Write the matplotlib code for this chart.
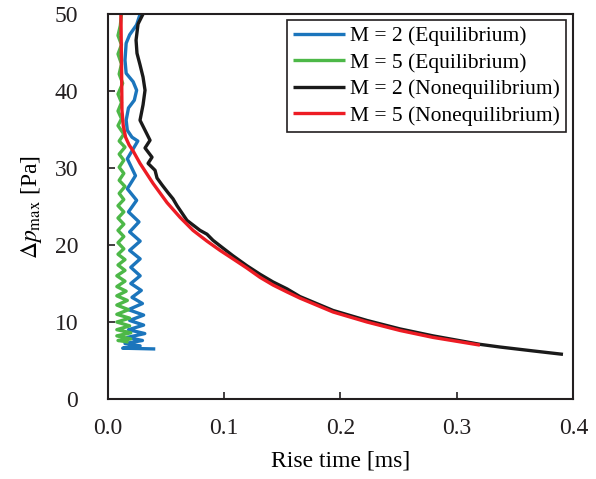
import matplotlib
matplotlib.use("Agg")
from matplotlib import pyplot as plt

plt.rcParams['font.family'] = ['Liberation Serif', 'DejaVu Serif']
plt.rcParams['mathtext.fontset'] = 'stix'

# M = 2 (Equilibrium)
eq2_x = [0.028, 0.025, 0.019, 0.016, 0.015, 0.016, 0.022, 0.025, 0.023, 0.018, 0.016, 0.017, 0.021,
         0.026, 0.017, 0.024, 0.017, 0.025, 0.018, 0.027, 0.019, 0.028, 0.019, 0.028, 0.020, 0.028,
         0.020, 0.029, 0.021, 0.030, 0.018, 0.031, 0.019, 0.031, 0.018, 0.032, 0.017, 0.030, 0.015,
         0.028, 0.013, 0.041]
eq2_y = [50.0, 48.6, 47.3, 46.2, 44.0, 42.3, 41.2, 40.1, 38.8, 37.8, 36.2, 34.9, 34.0,
         33.5, 31.2, 29.0, 27.3, 25.8, 24.3, 23.0, 21.7, 20.5, 19.3, 18.2, 17.1, 16.0,
         15.0, 14.1, 13.2, 12.4, 11.6, 10.9, 10.2, 9.6, 9.0, 8.5, 8.0, 7.6, 7.2,
         6.9, 6.6, 6.5]

# M = 5 (Equilibrium)
eq5_x = [0.012, 0.011, 0.009, 0.012, 0.009, 0.012, 0.010, 0.013, 0.009, 0.012, 0.009, 0.012, 0.009,
         0.014, 0.010, 0.015, 0.010, 0.014, 0.010, 0.014, 0.010, 0.015, 0.010, 0.014, 0.009, 0.014,
         0.009, 0.014, 0.009, 0.014, 0.009, 0.014, 0.009, 0.015, 0.009, 0.015, 0.008, 0.015, 0.008,
         0.016, 0.008, 0.017, 0.008, 0.018, 0.008, 0.019, 0.008, 0.019, 0.008, 0.020, 0.008, 0.020,
         0.009, 0.018]
eq5_y = [50.0, 48.5, 47.2, 46.0, 44.8, 43.5, 42.2, 41.0, 39.6, 38.5, 37.4, 36.4, 35.5,
         34.4, 33.5, 32.7, 31.8, 31.0, 30.1, 29.3, 28.4, 27.6, 26.7, 25.9, 25.1, 24.3,
         23.5, 22.7, 21.9, 21.1, 20.3, 19.5, 18.8, 18.1, 17.4, 16.7, 16.0, 15.3, 14.6,
         14.0, 13.4, 12.8, 12.2, 11.6, 11.0, 10.5, 10.0, 9.5, 9.0, 8.6, 8.2, 7.8,
         7.6, 7.4]

# M = 2 (Nonequilibrium)
neq2_x = [0.0305, 0.0262, 0.0245, 0.0253, 0.0279, 0.0305, 0.0322, 0.0305, 0.0279, 0.0322, 0.0365,
          0.0322, 0.0382, 0.0348, 0.0408, 0.0425, 0.0468, 0.0519, 0.0562, 0.0597, 0.0682, 0.0794,
          0.0854, 0.0906, 0.0991, 0.1077, 0.1197, 0.1309, 0.1421, 0.1541, 0.1652, 0.1936, 0.2227,
          0.2511, 0.2794, 0.3197, 0.337, 0.365, 0.391]
neq2_y = [50.0, 48.7, 46.6, 44.9, 43.4, 41.8, 40.1, 38.2, 36.2, 34.9, 33.6,
          32.6, 31.4, 30.6, 29.7, 28.7, 27.8, 26.8, 26.0, 25.1, 23.2, 21.9,
          21.4, 20.6, 19.6, 18.6, 17.3, 16.2, 15.2, 14.3, 13.3, 11.5, 10.2,
          9.1, 8.2, 7.1, 6.75, 6.25, 5.8]

# M = 5 (Nonequilibrium)
neq5_x = [0.0115, 0.0118, 0.0122, 0.0124, 0.0135, 0.0155, 0.0185, 0.022, 0.0279, 0.0391, 0.0511,
          0.0622, 0.0734, 0.0854, 0.0966, 0.1077, 0.1197, 0.1309, 0.1421, 0.1541, 0.1652, 0.1936,
          0.2227, 0.2511, 0.2794, 0.3197]
neq5_y = [50.0, 46.0, 41.0, 37.5, 35.5, 34.0, 33.0, 32.2, 30.6, 28.0, 25.5,
          23.6, 21.9, 20.5, 19.3, 18.2, 17.0, 15.8, 14.8, 13.9, 13.1, 11.3,
          10.0, 8.9, 8.0, 7.0]

fig = plt.figure(figsize=(5.96, 4.79), dpi=100)
ax = fig.add_axes([0.1804, 0.167, 0.7818, 0.8038])

lw = 2.4
kw = dict(lw=lw, solid_joinstyle='round', solid_capstyle='butt')
ax.plot(eq2_x, eq2_y, color='#1B75BC', label='M = 2 (Equilibrium)', **kw)
ax.plot(eq5_x, eq5_y, color='#4DB848', label='M = 5 (Equilibrium)', **kw)
ax.plot(neq2_x, neq2_y, color='#1a1a1a', label='M = 2 (Nonequilibrium)', **kw)
ax.plot(neq5_x, neq5_y, color='#ED1C24', label='M = 5 (Nonequilibrium)', **kw)

ax.set_xlim(0, 0.4)
ax.set_ylim(0, 50)
ax.set_xticks([0.0, 0.1, 0.2, 0.3, 0.4])
ax.set_yticks([0, 10, 20, 30, 40, 50])
ax.xaxis.set_major_formatter(matplotlib.ticker.FormatStrFormatter('%.1f'))
ax.tick_params(direction='in', length=5, width=1.2, labelsize=17, colors='#231F20')
ax.tick_params(axis='x', pad=14)
ax.tick_params(axis='y', pad=21)
for s in ax.spines.values():
    s.set_linewidth(1.5)
    s.set_color('#231F20')

ax.set_xlabel('Rise time [ms]', fontsize=17, labelpad=8)
ax.set_ylabel(r'$\Delta p_{\mathrm{max}}$ [Pa]', fontsize=17, labelpad=8)

leg = ax.legend(loc='upper right', bbox_to_anchor=(0.984, 0.984), borderaxespad=0,
                fontsize=15.5, fancybox=False, framealpha=1, edgecolor='#231F20',
                handlelength=2.4, handletextpad=0.25, labelspacing=0.3, borderpad=0.28)
leg.get_frame().set_linewidth(1.2)

fig.savefig('out.png', dpi=100)
